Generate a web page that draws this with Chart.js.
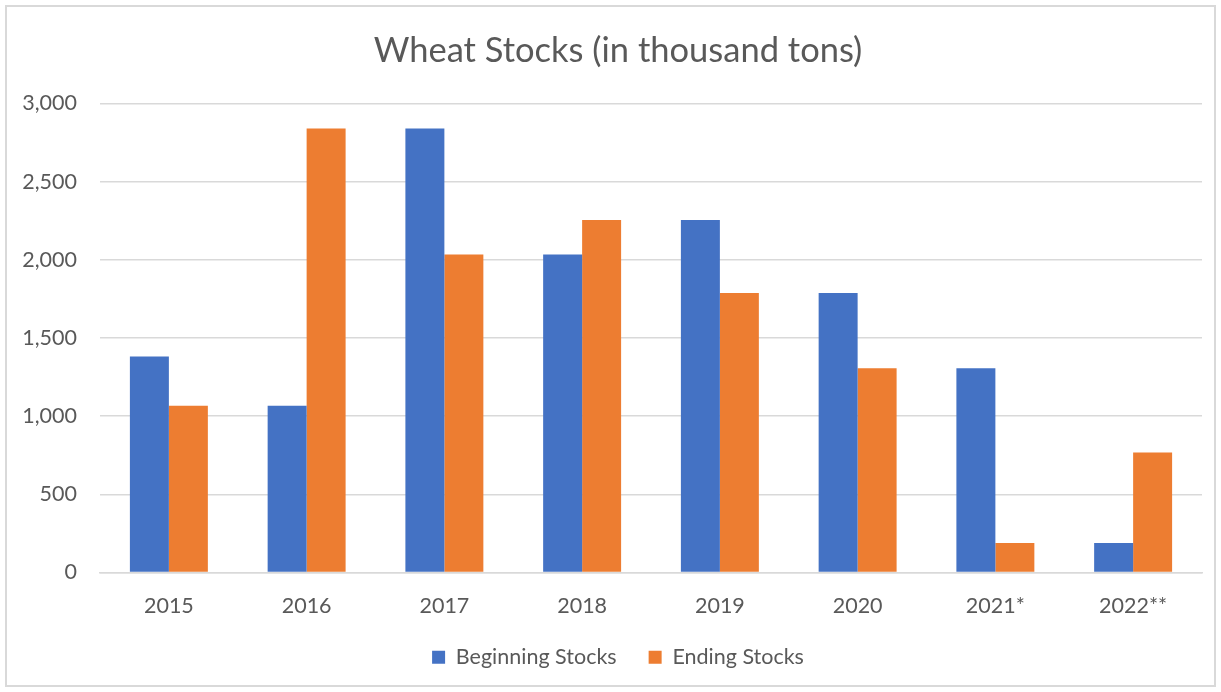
<!DOCTYPE html>
<html>
<head>
<meta charset="utf-8">
<script src="https://cdn.jsdelivr.net/npm/chart.js@4"></script>
<style>
  body { margin: 0; background: #fff; }
  #wrap { width: 1221px; height: 692px; position: relative; }
</style>
</head>
<body>
<div id="wrap"><canvas id="myChart" width="1221" height="692"></canvas></div>
<script>
const years = ["2015", "2016", "2017", "2018", "2019", "2020", "2021*", "2022**"];
const beginningStocks = [1381, 1067, 2840, 2034, 2254, 1787, 1306, 189];
const endingStocks = [1067, 2840, 2034, 2254, 1787, 1306, 189, 768];
const yTicks = [0, 500, 1000, 1500, 2000, 2500, 3000];

const textColor = "#595959";
const gridColor = "#d9d9d9";

// light grey frame round the whole chart
const frame = {
  id: "frame",
  beforeDraw(chart) {
    const c = chart.ctx;
    c.save();
    c.fillStyle = "#fff";
    c.fillRect(0, 0, chart.width, chart.height);
    c.strokeStyle = gridColor;
    c.lineWidth = 2;
    c.strokeRect(6, 6, chart.width - 12, chart.height - 12);
    c.restore();
  }
};

// title and legend sit a little right of the canvas centre in the original
const nudge = {
  id: "nudge",
  afterLayout(chart) {
    chart.titleBlock.left += 34;
    chart.legend.left += 34;
  }
};

const ctx = document.getElementById("myChart");

new Chart(ctx, {
  type: "bar",
  data: {
    labels: years,
    datasets: [
      {
        label: "Beginning Stocks",
        data: beginningStocks,
        backgroundColor: "#4472C4",
        categoryPercentage: 0.566,
        barPercentage: 1.0,
      },
      {
        label: "Ending Stocks",
        data: endingStocks,
        backgroundColor: "#ED7D31",
        categoryPercentage: 0.566,
        barPercentage: 1.0,
      },
    ],
  },
  options: {
    responsive: false,
    animation: false,
    layout: {
      padding: { top: 30, right: 19, bottom: 14, left: 0 },
    },
    scales: {
      y: {
        min: 0,
        max: 3000,
        afterFit: (scale) => { scale.width = 100; },
        afterBuildTicks: (scale) => { scale.ticks = yTicks.map((v) => ({ value: v })); },
        ticks: {
          color: textColor,
          padding: 23,
          font: { family: "Lato", size: 21.5 },
          callback: (v) => v.toLocaleString("en-US"),
        },
        grid: { color: gridColor, lineWidth: 1.5, drawTicks: false },
        border: { display: false },
      },
      x: {
        afterFit: (scale) => { scale.height = 42; },
        ticks: {
          color: textColor,
          padding: 21,
          font: { family: "Lato", size: 21.5 },
        },
        grid: { display: false, drawTicks: false },
        border: { color: gridColor, width: 1.5 },
      },
    },
    plugins: {
      title: {
        display: true,
        text: "Wheat Stocks (in thousand tons)",
        color: textColor,
        font: { family: "Lato", size: 34.5, weight: "normal" },
        padding: { top: 0, bottom: 32 },
      },
      legend: {
        position: "bottom",
        labels: {
          color: textColor,
          boxWidth: 13,
          boxHeight: 13,
          padding: 32,
          font: { family: "Lato", size: 21.5 },
        },
      },
      tooltip: { enabled: false },
    },
  },
  plugins: [frame, nudge],
});
</script>
</body>
</html>
